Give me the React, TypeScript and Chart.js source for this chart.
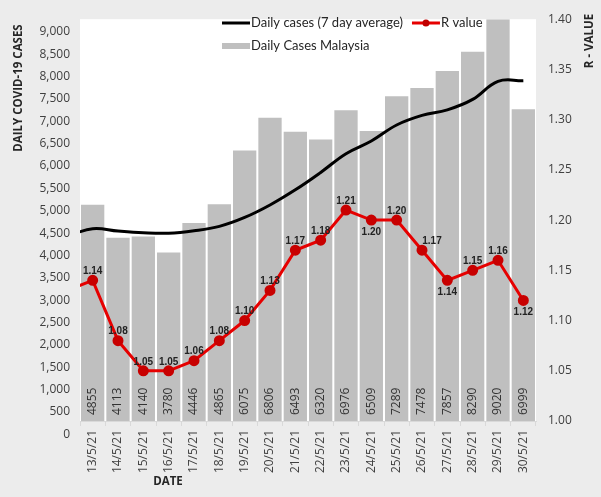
import React, { useEffect, useRef } from 'react';
import { Chart, registerables } from 'chart.js';

Chart.register(...registerables);

// Categories: first date is the lead-in point (off the left edge, only its line segment shows)
const dates = [
  '12/5/21', '13/5/21', '14/5/21', '15/5/21', '16/5/21', '17/5/21', '18/5/21', '19/5/21', '20/5/21',
  '21/5/21', '22/5/21', '23/5/21', '24/5/21', '25/5/21', '26/5/21', '27/5/21', '28/5/21', '29/5/21', '30/5/21',
];
// Daily cases, 13/5/21 .. 30/5/21
const dailyCases = [4855, 4113, 4140, 3780, 4446, 4865, 6075, 6806, 6493, 6320, 6976, 6509, 7289, 7478, 7857, 8290, 9020, 6999];
// 7 day average, 12/5/21 .. 30/5/21
const sevenDayAverage = [4150, 4316, 4263, 4225, 4215, 4270, 4370, 4570, 4850, 5190, 5580, 6000, 6285, 6645, 6860, 6985, 7220, 7625, 7640];
// R value, 12/5/21 .. 30/5/21
const rValue = [1.13, 1.14, 1.08, 1.05, 1.05, 1.06, 1.08, 1.1, 1.13, 1.17, 1.18, 1.21, 1.2, 1.2, 1.17, 1.14, 1.15, 1.16, 1.12];
// Dates whose R label sits below the point
const rLabelBelow = ['24/5/21', '27/5/21', '30/5/21'];
// Left axis tick labels
const leftTicks = [0, 500, 1000, 1500, 2000, 2500, 3000, 3500, 4000, 4500, 5000, 5500, 6000, 6500, 7000, 7500, 8000, 8500, 9000];

const FONT = "'Open Sans', sans-serif";

const bgPlugin = {
  id: 'bgPlugin',
  beforeDraw(chart: any) {
    const { ctx, chartArea } = chart;
    ctx.save();
    ctx.fillStyle = '#ececec';
    ctx.fillRect(0, 0, chart.width, chart.height);
    ctx.fillStyle = '#ffffff';
    ctx.fillRect(chartArea.left, chartArea.top, chartArea.right - chartArea.left, chartArea.bottom - chartArea.top);
    ctx.restore();
  },
};

const labelPlugin = {
  id: 'labelPlugin',
  afterDatasetsDraw(chart: any) {
    const { ctx, chartArea } = chart;
    ctx.save();
    // bar value labels (rotated, at bar base)
    const barMeta = chart.getDatasetMeta(0);
    const barData = chart.data.datasets[0].data;
    ctx.fillStyle = '#333333';
    ctx.font = `12px ${FONT}`;
    ctx.textAlign = 'left';
    ctx.textBaseline = 'middle';
    barMeta.data.forEach((bar: any, i: number) => {
      const v = barData[i];
      if (v == null) return;
      ctx.save();
      ctx.translate(bar.x, chartArea.bottom - 6);
      ctx.rotate(-Math.PI / 2);
      ctx.fillText(String(v), 0, 0);
      ctx.restore();
    });

    // R value labels
    const rMeta = chart.getDatasetMeta(2);
    const rData = chart.data.datasets[2].data;
    ctx.fillStyle = '#222222';
    ctx.font = `bold 10px 'Liberation Sans', sans-serif`;
    ctx.textAlign = 'center';
    rMeta.data.forEach((pt: any, i: number) => {
      if (i === 0) return;
      const below = rLabelBelow.includes(dates[i]);
      const dx = dates[i] === '26/5/21' ? 10 : 0;
      ctx.textBaseline = below ? 'top' : 'bottom';
      ctx.fillText(Number(rData[i]).toFixed(2), pt.x + dx, below ? pt.y + 7 : pt.y - 4);
    });

    // Legend
    ctx.textAlign = 'left';
    ctx.textBaseline = 'middle';
    ctx.font = `13px Lato, sans-serif`;
    ctx.fillStyle = '#262626';
    const lx = 222;
    const y1 = 23;
    const y2 = 46;
    ctx.strokeStyle = '#000000';
    ctx.lineWidth = 3;
    ctx.beginPath();
    ctx.moveTo(lx, y1);
    ctx.lineTo(lx + 28, y1);
    ctx.stroke();
    const t1 = 'Daily cases (7 day average)';
    ctx.fillText(t1, lx + 29, y1);
    const x2 = lx + 29 + ctx.measureText(t1).width + 9;
    ctx.strokeStyle = '#e60000';
    ctx.beginPath();
    ctx.moveTo(x2, y1);
    ctx.lineTo(x2 + 28, y1);
    ctx.stroke();
    ctx.fillStyle = '#c00000';
    ctx.beginPath();
    ctx.arc(x2 + 14, y1, 3.5, 0, Math.PI * 2);
    ctx.fill();
    ctx.fillStyle = '#262626';
    ctx.fillText('R value', x2 + 29, y1);
    ctx.fillStyle = '#bfbfbf';
    ctx.fillRect(lx, y2 - 3, 28, 6);
    ctx.fillStyle = '#262626';
    ctx.fillText('Daily Cases Malaysia', lx + 29, y2);

    // Axis titles
    ctx.font = `bold 11.5px ${FONT}`;
    ctx.fillStyle = '#262626';
    ctx.textAlign = 'center';
    ctx.textBaseline = 'middle';
    ctx.save();
    ctx.translate(19, 88);
    ctx.rotate(-Math.PI / 2);
    ctx.fillText('DAILY COVID-19 CASES', 0, 0);
    ctx.restore();
    ctx.save();
    ctx.translate(590, 41);
    ctx.rotate(-Math.PI / 2);
    ctx.fillText('R - VALUE', 0, 0);
    ctx.restore();
    ctx.fillText('DATE', 168, 482);
    ctx.restore();
  },
};

export default function App() {
  const ref = useRef<HTMLCanvasElement | null>(null);

  useEffect(() => {
    if (!ref.current) return;
    const chart = new Chart(ref.current, {
      type: 'bar',
      data: {
        labels: dates,
        datasets: [
          {
            type: 'bar',
            label: 'Daily Cases Malaysia',
            data: [null, ...dailyCases],
            backgroundColor: '#bfbfbf',
            barPercentage: 0.92,
            categoryPercentage: 1.0,
            yAxisID: 'yBar',
            order: 3,
          },
          {
            type: 'line',
            label: 'Daily cases (7 day average)',
            data: sevenDayAverage,
            borderColor: '#000000',
            borderWidth: 3,
            pointRadius: 0,
            tension: 0.4,
            yAxisID: 'yBar',
            order: 2,
          },
          {
            type: 'line',
            label: 'R value',
            data: rValue,
            borderColor: '#e60000',
            borderWidth: 3,
            pointRadius: 4,
            pointBackgroundColor: '#c80000',
            pointBorderColor: '#c80000',
            tension: 0,
            yAxisID: 'y1',
            order: 1,
          },
        ] as any,
      },
      options: {
        responsive: false,
        animation: false,
        devicePixelRatio: 1,
        layout: { padding: { top: 10, left: 0, right: 0, bottom: 0 } },
        plugins: { legend: { display: false }, tooltip: { enabled: false } },
        scales: {
          x: {
            type: 'category',
            min: '13/5/21',
            offset: true,
            grid: { display: true, drawOnChartArea: false, drawTicks: true, tickLength: 5, color: '#d9d9d9', offset: true },
            border: { display: true, color: '#d9d9d9' },
            ticks: {
              minRotation: 90,
              maxRotation: 90,
              autoSkip: false,
              padding: 4,
              color: '#404040',
              font: { family: FONT, size: 12 },
            },
            afterFit(scale: any) {
              scale.height = 76;
            },
          } as any,
          y: {
            type: 'linear',
            position: 'left',
            min: 297,
            max: 9284,
            grid: { display: false, drawTicks: false },
            border: { display: false },
            ticks: {
              autoSkip: false,
              padding: 10,
              color: '#404040',
              font: { family: FONT, size: 12 },
              callback: (v: any) => Number(v).toLocaleString('en-US'),
            },
            afterBuildTicks(scale: any) {
              scale.ticks = leftTicks.map((value) => ({ value }));
            },
            afterFit(scale: any) {
              scale.width = 80;
            },
          } as any,
          yBar: {
            type: 'linear',
            display: false,
            min: 0,
            max: 9020,
          },
          y1: {
            type: 'linear',
            position: 'right',
            min: 1.0,
            max: 1.4,
            grid: { display: false, drawTicks: false },
            border: { display: false },
            ticks: {
              stepSize: 0.05,
              padding: 12,
              color: '#404040',
              font: { family: FONT, size: 12 },
              callback: (v: any) => Number(v).toFixed(2),
            },
            afterFit(scale: any) {
              scale.width = 65;
            },
          } as any,
        },
      },
      plugins: [bgPlugin, labelPlugin],
    });
    return () => chart.destroy();
  }, []);

  return (
    <div style={{ position: 'absolute', left: 0, top: 0, width: 601, height: 497 }}>
      <canvas ref={ref} width={601} height={497} style={{ display: 'block' }} />
    </div>
  );
}
